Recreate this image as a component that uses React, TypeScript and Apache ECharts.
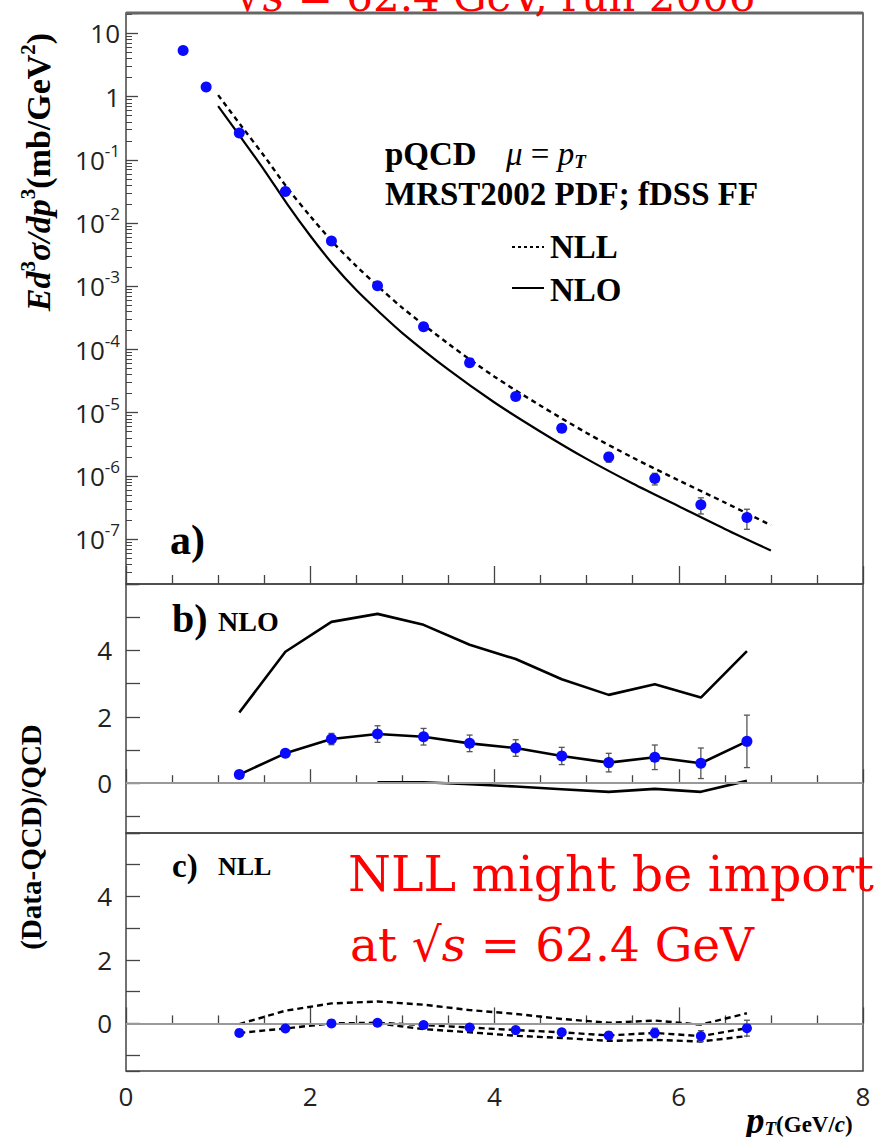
import React, { useEffect, useRef } from 'react';
import * as echarts from 'echarts';

// ---------- data ----------
// panel a) invariant cross section
const ptX = [0.62, 0.87, 1.23, 1.73, 2.23, 2.73, 3.23, 3.73, 4.23, 4.73, 5.24, 5.74, 6.24, 6.74];
const crossSection = [5.4, 1.42, 0.266, 0.0316, 0.0052, 1.02e-3, 2.3e-4, 6.2e-5, 1.8e-5, 5.7e-6, 2.0e-6, 9.1e-7, 3.5e-7, 2.2e-7];
const crossSectionErr = [0.1, 0.03, 0.0084, 0.001, 3.8e-4, 1.03e-4, 2.4e-5, 7e-6, 2.2e-6, 8.1e-7, 3.5e-7, 1.9e-7, 1.0e-7, 7.7e-8];
const theoryX = [1.0, 1.25, 1.5, 1.75, 2.0, 2.25, 2.5, 2.75, 3.0, 3.5, 4.0, 4.5, 5.0, 5.5, 6.0, 6.5, 7.0];
const nloCurve = [0.708, 0.224, 0.0692, 0.02, 0.00631, 0.00219, 8.71e-4, 3.89e-4, 1.82e-4, 4.79e-5, 1.45e-5, 5.01e-6, 1.86e-6, 7.59e-7, 3.31e-7, 1.45e-7, 6.61e-8];
const nllCurve = [1.06, 0.347, 0.115, 0.0363, 0.0129, 0.0049, 0.00209, 9.55e-4, 4.57e-4, 1.23e-4, 3.72e-5, 1.29e-5, 4.79e-6, 1.95e-6, 8.51e-7, 3.8e-7, 1.66e-7];

// panel b) (Data-NLO)/NLO
const ratioX = [1.23, 1.73, 2.23, 2.73, 3.23, 3.73, 4.23, 4.73, 5.24, 5.74, 6.24, 6.74];
const nloRatio = [0.26, 0.9, 1.33, 1.48, 1.4, 1.2, 1.06, 0.82, 0.62, 0.78, 0.6, 1.26];
const nloRatioErr = [0.04, 0.06, 0.17, 0.25, 0.25, 0.25, 0.25, 0.26, 0.28, 0.37, 0.46, 0.79];
const nloUpper = [2.13, 3.96, 4.86, 5.1, 4.77, 4.17, 3.74, 3.13, 2.66, 2.98, 2.58, 3.98];
const lowerX = [2.73, 3.23, 3.73, 4.23, 4.73, 5.24, 5.74, 6.24, 6.74];
const nloLower = [0.03, 0.03, -0.03, -0.1, -0.18, -0.26, -0.17, -0.26, 0.07];

// panel c) (Data-NLL)/NLL
const nllRatio = [-0.3, -0.16, 0.0, 0.02, -0.05, -0.13, -0.21, -0.28, -0.38, -0.3, -0.4, -0.15];
const nllRatioErr = [0.02, 0.03, 0.07, 0.1, 0.1, 0.1, 0.1, 0.1, 0.11, 0.15, 0.17, 0.25];
const nllUpper = [-0.02, 0.4, 0.63, 0.69, 0.59, 0.42, 0.3, 0.14, 0.02, 0.09, -0.04, 0.32];
const nllLower = [0.0, -0.18, -0.28, -0.39, -0.46, -0.55, -0.52, -0.57, -0.4];

// ---------- helpers ----------
const zip = (xs: number[], ys: number[]) => xs.map((x, i) => [x, ys[i]]);
const BLUE = '#0a0aff';
const FRAME = '#444';
const SANS = 'Open Sans';
const SERIF = 'Liberation Serif';
const RED_FONT = 'DejaVu Serif';

function errorSeries(ax: number, xs: number[], ys: number[], errs: number[], cap: number) {
  return {
    type: 'custom',
    xAxisIndex: ax,
    yAxisIndex: ax,
    z: 3,
    silent: true,
    data: xs.map((x, i) => [x, ys[i] - errs[i], ys[i] + errs[i]]),
    encode: { x: 0, y: [1, 2] },
    renderItem: (_p: any, api: any) => {
      const lo = api.coord([api.value(0), api.value(1)]);
      const hi = api.coord([api.value(0), api.value(2)]);
      const style = { stroke: '#555', lineWidth: 1.3 };
      return {
        type: 'group',
        children: [
          { type: 'line', shape: { x1: lo[0], y1: lo[1], x2: hi[0], y2: hi[1] }, style },
          { type: 'line', shape: { x1: lo[0] - cap, y1: lo[1], x2: lo[0] + cap, y2: lo[1] }, style },
          { type: 'line', shape: { x1: hi[0] - cap, y1: hi[1], x2: hi[0] + cap, y2: hi[1] }, style },
        ],
      };
    },
  };
}

function xAxis(gridIndex: number, showLabels: boolean, major: number, minor: number) {
  return {
    type: 'value',
    gridIndex,
    min: 0,
    max: 8,
    interval: 2,
    axisLine: { show: false },
    axisTick: { show: true, inside: true, length: major, lineStyle: { color: FRAME, width: 1.3 } },
    minorTick: { show: true, splitNumber: 4, length: minor, lineStyle: { color: FRAME, width: 1.3 } },
    axisLabel: { show: showLabels, margin: 12, fontSize: 26, fontFamily: SANS, color: '#222' },
    splitLine: { show: false },
    minorSplitLine: { show: false },
  };
}

function ratioYAxis(gridIndex: number) {
  return {
    type: 'value',
    gridIndex,
    min: -1.5,
    max: 6,
    splitNumber: 7,
    minInterval: 1,
    maxInterval: 1,
    axisLine: { show: false },
    axisTick: { show: true, inside: true, length: 14, lineStyle: { color: FRAME, width: 1.3 } },
    axisLabel: {
      margin: 14,
      fontSize: 26,
      fontFamily: SANS,
      color: '#222',
      formatter: (v: number) => {
        const r = Math.round(v);
        return Math.abs(v - r) < 1e-9 && r >= 0 && r <= 4 && r % 2 === 0 ? String(r) : '';
      },
    },
    splitLine: { show: false },
  };
}

const zeroLine = {
  silent: true,
  symbol: 'none',
  label: { show: false },
  lineStyle: { color: '#999', width: 2, type: 'solid' },
  data: [{ yAxis: 0 }],
};

const dot = () => ({ color: BLUE, opacity: 1 });

const option: any = {
  animation: false,
  backgroundColor: '#fff',
  grid: [
    { left: 126, top: 13, width: 737, height: 571, show: true, borderColor: FRAME, borderWidth: 1.5, backgroundColor: 'transparent' },
    { left: 126, top: 584, width: 737, height: 249, show: true, borderColor: FRAME, borderWidth: 1.5, backgroundColor: 'transparent' },
    { left: 126, top: 833, width: 737, height: 238, show: true, borderColor: FRAME, borderWidth: 1.5, backgroundColor: 'transparent' },
  ],
  xAxis: [xAxis(0, false, 18, 9), xAxis(1, false, 14, 8), xAxis(2, true, 16, 8)],
  yAxis: [
    {
      type: 'log',
      logBase: 10,
      gridIndex: 0,
      min: 1.95e-8,
      max: 21.1,
      splitNumber: 10,
      axisLine: { show: false },
      axisTick: { show: true, inside: true, length: 12, lineStyle: { color: FRAME, width: 1.3 } },
      minorTick: { show: true, splitNumber: 9, length: 6, lineStyle: { color: FRAME, width: 1 } },
      splitLine: { show: false },
      minorSplitLine: { show: false },
      axisLabel: {
        margin: 6,
        fontSize: 26,
        fontFamily: SANS,
        color: '#222',
        showMinLabel: false,
        showMaxLabel: false,
        formatter: (v: number) => {
          const e = Math.log10(v);
          const r = Math.round(e);
          if (Math.abs(e - r) > 1e-6) return '';
          if (r === 1) return '10';
          if (r === 0) return '1';
          return `{b|10}{s|${r}}`;
        },
        rich: {
          b: { fontSize: 26, fontFamily: SANS, color: '#222', lineHeight: 36 },
          s: { fontSize: 17, fontFamily: SANS, color: '#222', lineHeight: 17, verticalAlign: 'top' },
        },
      },
    },
    ratioYAxis(1),
    ratioYAxis(2),
  ],
  series: [
    // ----- panel a -----
    {
      type: 'line', xAxisIndex: 0, yAxisIndex: 0, data: zip(theoryX, nloCurve), smooth: 0.3,
      showSymbol: false, silent: true, z: 2, lineStyle: { color: '#000', width: 2.2 },
    },
    {
      type: 'line', xAxisIndex: 0, yAxisIndex: 0, data: zip(theoryX, nllCurve), smooth: 0.3,
      showSymbol: false, silent: true, z: 2, lineStyle: { color: '#000', width: 2.4, type: [5, 4] },
    },
    errorSeries(0, ptX, crossSection, crossSectionErr, 3),
    {
      type: 'scatter', xAxisIndex: 0, yAxisIndex: 0, data: zip(ptX, crossSection), symbolSize: 11,
      itemStyle: dot(), z: 5, silent: true,
    },
    // ----- panel b -----
    {
      type: 'line', xAxisIndex: 1, yAxisIndex: 1, data: zip(ratioX, nloUpper), showSymbol: false,
      silent: true, z: 2, lineStyle: { color: '#000', width: 2.6 },
    },
    {
      type: 'line', xAxisIndex: 1, yAxisIndex: 1, data: zip(lowerX, nloLower), showSymbol: false,
      silent: true, z: 2, lineStyle: { color: '#000', width: 2.6 },
    },
    {
      type: 'line', xAxisIndex: 1, yAxisIndex: 1, data: zip(ratioX, nloRatio), showSymbol: false,
      silent: true, z: 2, lineStyle: { color: '#000', width: 2.6 }, markLine: zeroLine,
    },
    errorSeries(1, ratioX, nloRatio, nloRatioErr, 3),
    {
      type: 'scatter', xAxisIndex: 1, yAxisIndex: 1, data: zip(ratioX, nloRatio), symbolSize: 11,
      itemStyle: dot(), z: 5, silent: true,
    },
    // ----- panel c -----
    {
      type: 'line', xAxisIndex: 2, yAxisIndex: 2, data: zip(ratioX, nllUpper), showSymbol: false,
      silent: true, z: 2, lineStyle: { color: '#000', width: 2.4, type: [6, 4] },
    },
    {
      type: 'line', xAxisIndex: 2, yAxisIndex: 2, data: zip(lowerX, nllLower), showSymbol: false,
      silent: true, z: 2, lineStyle: { color: '#000', width: 2.4, type: [6, 4] },
    },
    {
      type: 'line', xAxisIndex: 2, yAxisIndex: 2, data: zip(ratioX, nllRatio), showSymbol: false,
      silent: true, z: 2, lineStyle: { color: '#000', width: 2.4, type: [6, 4] }, markLine: zeroLine,
    },
    errorSeries(2, ratioX, nllRatio, nllRatioErr, 3),
    {
      type: 'scatter', xAxisIndex: 2, yAxisIndex: 2, data: zip(ratioX, nllRatio), symbolSize: 10,
      itemStyle: dot(), z: 5, silent: true,
    },
  ],
  graphic: [
    // thick top frame line of panel a
    { type: 'line', shape: { x1: 126, y1: 13, x2: 863, y2: 13 }, style: { stroke: '#666', lineWidth: 3 }, z: 10 },
    // red title (clipped at the top of the page, as in the reference)
    {
      type: 'text', x: 236, y: -4, z: 20,
      style: {
        text: '√{i|s} = 62.4 GeV, run 2006',
        fill: '#ff0000', fontSize: 42, fontFamily: RED_FONT, align: 'left', verticalAlign: 'middle',
        rich: { i: { fontStyle: 'italic', fill: '#ff0000', fontSize: 42, fontFamily: RED_FONT } },
      },
    },
    // y title panel a
    {
      type: 'text', x: 38, y: 172, rotation: Math.PI / 2, z: 20,
      style: {
        text: '{i|Ed}{s|3}{i|σ/dp}{s|3}{b|(mb/GeV}{s|2}{b|)}',
        align: 'center', verticalAlign: 'middle', fill: '#000',
        rich: {
          i: { fontFamily: SERIF, fontWeight: 'bold', fontStyle: 'italic', fontSize: 34, fill: '#000', lineHeight: 42 },
          b: { fontFamily: SERIF, fontWeight: 'bold', fontSize: 34, fill: '#000', lineHeight: 42 },
          s: { fontFamily: SERIF, fontWeight: 'bold', fontSize: 21, fill: '#000', lineHeight: 21, verticalAlign: 'top' },
        },
      },
    },
    // y title panels b, c
    {
      type: 'text', x: 31, y: 837, rotation: Math.PI / 2, z: 20,
      style: {
        text: '(Data-QCD)/QCD', align: 'center', verticalAlign: 'middle', fill: '#000',
        fontFamily: SERIF, fontWeight: 'bold', fontSize: 29,
      },
    },
    // x title
    {
      type: 'text', x: 746, y: 1120, z: 20,
      style: {
        text: '{p|p}{t|T}{u|(GeV/}{c|c}{u|)}', align: 'left', verticalAlign: 'middle', fill: '#000',
        rich: {
          p: { fontFamily: SERIF, fontWeight: 'bold', fontStyle: 'italic', fontSize: 37, fill: '#000', lineHeight: 36 },
          t: { fontFamily: SERIF, fontWeight: 'bold', fontStyle: 'italic', fontSize: 19, fill: '#000', lineHeight: 19, verticalAlign: 'bottom' },
          u: { fontFamily: SERIF, fontWeight: 'bold', fontSize: 23, fill: '#000', lineHeight: 36, padding: [8, 0, 0, 0] },
          c: { fontFamily: SERIF, fontWeight: 'bold', fontStyle: 'italic', fontSize: 23, fill: '#000', lineHeight: 36, padding: [8, 0, 0, 0] },
        },
      },
    },
    // panel a annotations
    {
      type: 'text', x: 385, y: 154, z: 20,
      style: { text: 'pQCD', fontFamily: SERIF, fontWeight: 'bold', fontSize: 33, fill: '#000', align: 'left', verticalAlign: 'middle' },
    },
    {
      type: 'text', x: 506, y: 154, z: 20,
      style: {
        text: '{i|μ} = {i|p}{t|T}', fontFamily: SERIF, fontSize: 33, fill: '#000', align: 'left', verticalAlign: 'middle',
        rich: {
          i: { fontFamily: SERIF, fontStyle: 'italic', fontSize: 33, fill: '#000', lineHeight: 34 },
          t: { fontFamily: SERIF, fontStyle: 'italic', fontWeight: 'bold', fontSize: 19, fill: '#000', lineHeight: 19, verticalAlign: 'bottom' },
        },
      },
    },
    {
      type: 'text', x: 385, y: 194, z: 20,
      style: { text: 'MRST2002 PDF; fDSS FF', fontFamily: SERIF, fontWeight: 'bold', fontSize: 33, fill: '#000', align: 'left', verticalAlign: 'middle' },
    },
    { type: 'line', shape: { x1: 512, y1: 247, x2: 544, y2: 247 }, style: { stroke: '#000', lineWidth: 2, lineDash: [3, 3] }, z: 20 },
    {
      type: 'text', x: 550, y: 247, z: 20,
      style: { text: 'NLL', fontFamily: SERIF, fontWeight: 'bold', fontSize: 33, fill: '#000', align: 'left', verticalAlign: 'middle' },
    },
    { type: 'line', shape: { x1: 512, y1: 288, x2: 544, y2: 288 }, style: { stroke: '#000', lineWidth: 2 }, z: 20 },
    {
      type: 'text', x: 550, y: 290, z: 20,
      style: { text: 'NLO', fontFamily: SERIF, fontWeight: 'bold', fontSize: 33, fill: '#000', align: 'left', verticalAlign: 'middle' },
    },
    {
      type: 'text', x: 170, y: 540, z: 20,
      style: { text: 'a)', fontFamily: SERIF, fontWeight: 'bold', fontSize: 42, fill: '#000', align: 'left', verticalAlign: 'middle' },
    },
    {
      type: 'text', x: 172, y: 618, z: 20,
      style: { text: 'b)', fontFamily: SERIF, fontWeight: 'bold', fontSize: 40, fill: '#000', align: 'left', verticalAlign: 'middle' },
    },
    {
      type: 'text', x: 218, y: 621, z: 20,
      style: { text: 'NLO', fontFamily: SERIF, fontWeight: 'bold', fontSize: 28, fill: '#000', align: 'left', verticalAlign: 'middle' },
    },
    {
      type: 'text', x: 172, y: 866, z: 20,
      style: { text: 'c)', fontFamily: SERIF, fontWeight: 'bold', fontSize: 33, fill: '#000', align: 'left', verticalAlign: 'middle' },
    },
    {
      type: 'text', x: 218, y: 866, z: 20,
      style: { text: 'NLL', fontFamily: SERIF, fontWeight: 'bold', fontSize: 26, fill: '#000', align: 'left', verticalAlign: 'middle' },
    },
    // red annotation in panel c
    {
      type: 'text', x: 348, y: 874, z: 20,
      style: { text: 'NLL might be import', fontFamily: RED_FONT, fontSize: 49, fill: '#ff0000', align: 'left', verticalAlign: 'middle' },
    },
    {
      type: 'text', x: 350, y: 944, z: 20,
      style: {
        text: 'at √{i|s} = 62.4 GeV', fontFamily: RED_FONT, fontSize: 47, fill: '#ff0000', align: 'left', verticalAlign: 'middle',
        rich: { i: { fontStyle: 'italic', fontFamily: RED_FONT, fontSize: 47, fill: '#ff0000' } },
      },
    },
  ],
};

export default function App() {
  const ref = useRef<HTMLDivElement>(null);
  useEffect(() => {
    if (!ref.current) return;
    const chart = echarts.init(ref.current, undefined, { renderer: 'svg' });
    chart.setOption(option);
    return () => chart.dispose();
  }, []);
  return (
    <div
      ref={ref}
      style={{ position: 'absolute', left: 0, top: 0, width: 875, height: 1137, background: '#fff', overflow: 'hidden' }}
    />
  );
}
